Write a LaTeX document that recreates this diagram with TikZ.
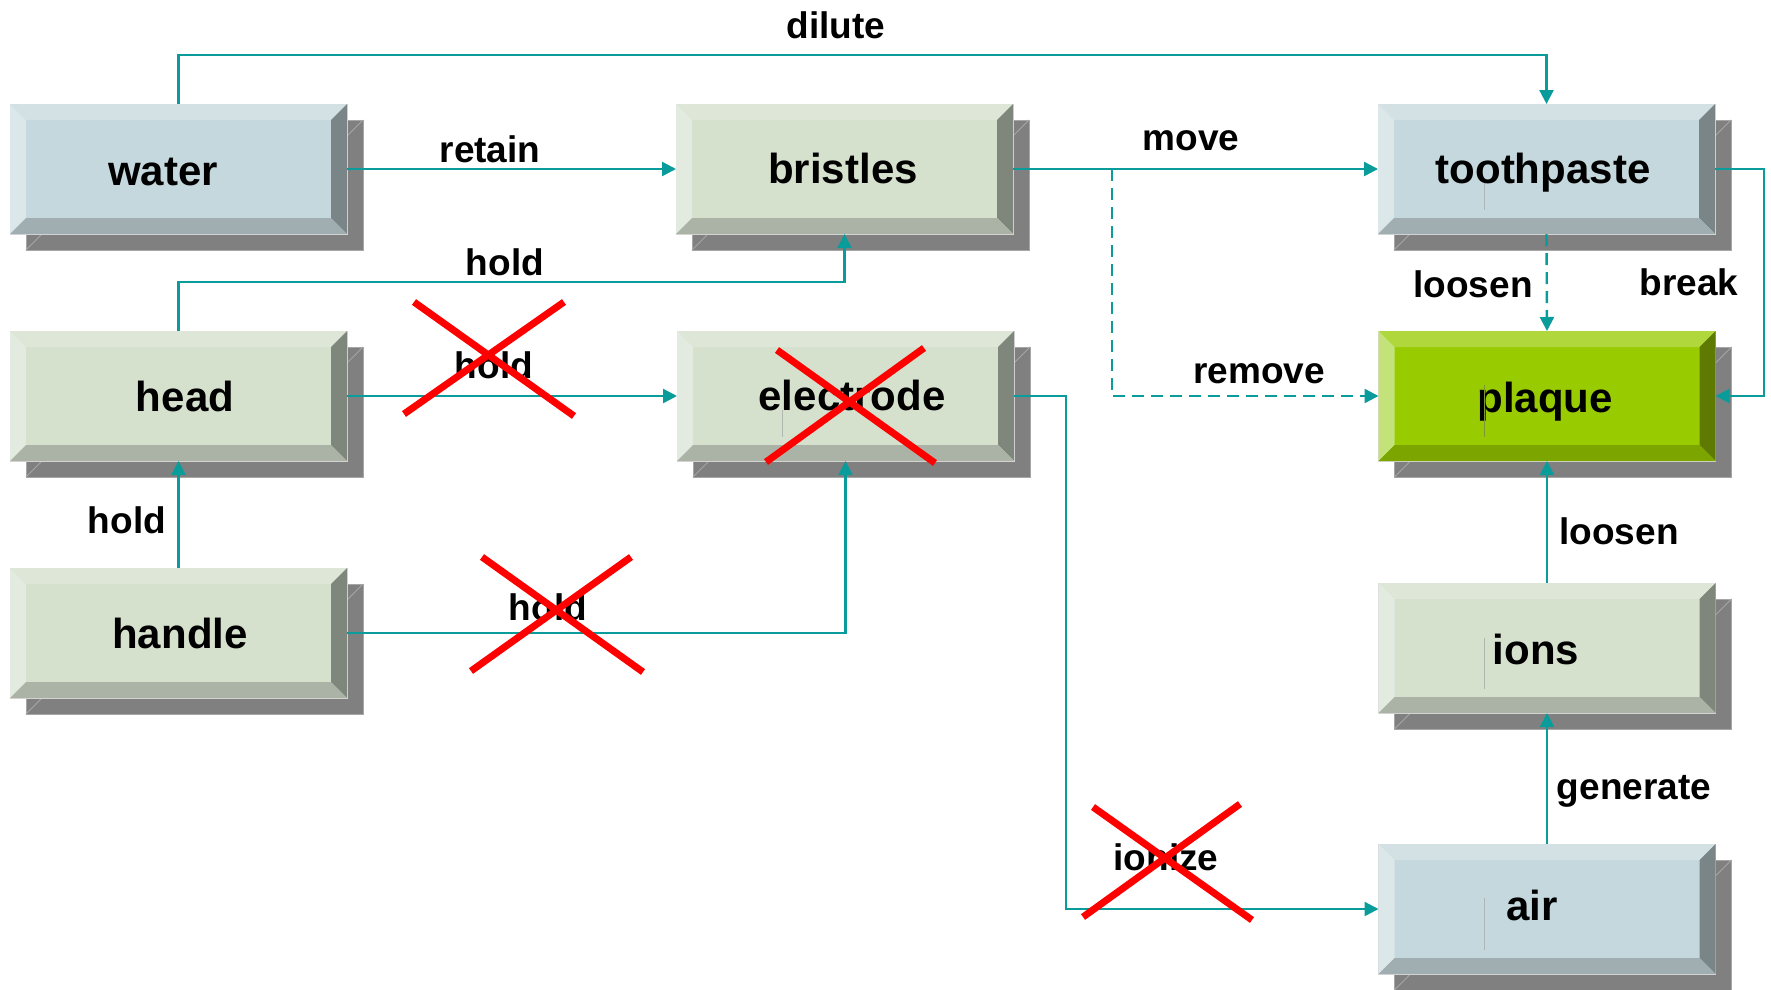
\documentclass[tikz,border=0pt]{standalone}
\usepackage{fontspec}
\setmainfont{Liberation Sans}
\usetikzlibrary{arrows.meta}
\definecolor{tealc}{HTML}{0A9B9B}
\definecolor{shadowc}{HTML}{808080}
\definecolor{shadowln}{HTML}{A6A6A6}
% blue-grey palette
\definecolor{bface}{HTML}{C5D8DD}
\definecolor{btop}{HTML}{D3E1E5}
\definecolor{bleft}{HTML}{DCE7EA}
\definecolor{bright}{HTML}{7A8588}
\definecolor{bbot}{HTML}{A1AEB1}
% green-grey palette
\definecolor{gface}{HTML}{D5E0CD}
\definecolor{gtop}{HTML}{DEE6D8}
\definecolor{gleft}{HTML}{E3EAE0}
\definecolor{gright}{HTML}{7F867B}
\definecolor{gbot}{HTML}{AAB3A6}
% plaque palette
\definecolor{pface}{HTML}{99CC00}
\definecolor{ptop}{HTML}{B0D83C}
\definecolor{pleft}{HTML}{C4E27A}
\definecolor{pright}{HTML}{5E7A00}
\definecolor{pbot}{HTML}{7DA500}
\definecolor{crossc}{HTML}{FF0000}

\newcommand{\bevbox}[7]{%
  \fill[shadowc] ({#2-152.5},{#3-49}) rectangle ({#2+184.5},{#3+81});
  \draw[shadowln,line width=0.8pt] ({#2-152.5},{#3-49}) rectangle ({#2+184.5},{#3+81});
  \draw[shadowln,line width=0.8pt] ({#2+184.5},{#3-49}) -- ({#2+168.5},{#3-33});
  \draw[shadowln,line width=0.8pt] ({#2-152.5},{#3+81}) -- ({#2-136.5},{#3+65});
  \node[boxshape,fill=#4face] (#1) at (#2,#3) {};
  \fill[#4top] (#1.north west) -- (#1.north east) -- ([shift={(-16,16)}]#1.north east) -- ([shift={(16,16)}]#1.north west) -- cycle;
  \fill[#4left] (#1.north west) -- ([shift={(16,16)}]#1.north west) -- ([shift={(16,-16)}]#1.south west) -- (#1.south west) -- cycle;
  \fill[#4right] (#1.north east) -- (#1.south east) -- ([shift={(-16,-16)}]#1.south east) -- ([shift={(-16,16)}]#1.north east) -- cycle;
  \fill[#4bot] (#1.south west) -- (#1.south east) -- ([shift={(-16,-16)}]#1.south east) -- ([shift={(16,-16)}]#1.south west) -- cycle;
  \node[boxtext] (#1-text) at (#6,#7) {#5};
}

\begin{document}
\begin{tikzpicture}[x=1pt,y=-1pt,
  boxshape/.style={rectangle,minimum width=337pt,minimum height=130pt,inner sep=0pt,outer sep=0pt,draw=white!70!gray,line width=0.5pt},
  boxtext/.style={font=\fontsize{42}{48}\selectfont\bfseries,anchor=base,inner sep=0pt},
  lbl/.style={font=\fontsize{37}{44}\selectfont\bfseries,inner sep=0pt},
  conn/.style={draw=tealc,line width=2.4pt,-{Triangle[length=14pt,width=14pt]}},
  dconn/.style={conn,dash pattern=on 12pt off 7pt},
  plainconn/.style={draw=tealc,line width=2.4pt},
  crossline/.style={draw=crossc,line width=7pt},
  cursor/.style={line width=1pt}
]
\useasboundingbox (0,0) rectangle (1771,989);
\fill[white] (0,0) rectangle (1771,989);

% boxes
\bevbox{water}{178.5}{169}{b}{water}{163}{185}
\bevbox{bristles}{844.5}{169}{g}{bristles}{843}{183}
\bevbox{toothpaste}{1546.5}{169}{b}{toothpaste}{1543}{183}
\bevbox{head}{178.5}{396}{g}{head}{185}{411}
\bevbox{electrode}{845.5}{396}{g}{electrode}{852}{410}
\bevbox{plaque}{1547}{396}{p}{plaque}{1545}{412}
\bevbox{handle}{178.5}{633}{g}{handle}{180}{648}
\bevbox{ions}{1547}{648}{g}{ions}{1536}{664}
\bevbox{air}{1547}{909}{b}{air}{1532}{920}

% faint cursor marks
\draw[cursor,draw=bright!60] (1484,183) -- (1484,210);
\draw[cursor,draw=pright!80] (1484,385) -- (1484,437);
\draw[cursor,draw=gright!60] (1484,638) -- (1484,689);
\draw[cursor,draw=bright!60] (1484,898) -- (1484,950);
\draw[cursor,draw=gright!60] (782,410) -- (782,437);

% helper coordinates
\coordinate (dil) at (836,55);
\coordinate (hd) at (505,282);
\coordinate (br) at (1112,169);
\coordinate (bk) at (1764,280);
\coordinate (io) at (1066,650);

% connectors
\draw[conn] (water.north) |- (dil) -| (toothpaste.north);
\draw[conn] (water.east) -- (bristles.west);
\draw[dconn] (br) |- (plaque.west);
\draw[conn] (bristles.east) -- (toothpaste.west);
\draw[conn] (head.north) |- (hd) -| (bristles.south);
\draw[conn] (head.east) -- (electrode.west);
\draw[conn] (handle.north) -- (head.south);
\draw[conn] (handle.east) -| (electrode.south);
\draw[conn] (electrode.east) -| (io) |- (air.west);
\draw[dconn] (toothpaste.south) -- (plaque.north);
\draw[conn] (toothpaste.east) -| (bk) |- (plaque.east);
\draw[conn] (ions.north) -- (plaque.south);
\draw[conn] (air.north) -- (ions.south);

% labels
\node[lbl] (l-dilute) at (836,25) {dilute};
\node[lbl] (l-retain) at (490,149) {retain};
\node[lbl] (l-move) at (1191,141) {move};
\node[lbl] (l-hold1) at (505,262) {hold};
\node[lbl] (l-hold2) at (494,365) {hold};
\node[lbl] (l-remove) at (1259,374) {remove};
\node[lbl] (l-loosen1) at (1473,284) {loosen};
\node[lbl] (l-break) at (1689,282) {break};
\node[lbl] (l-hold3) at (127,520) {hold};
\node[lbl] (l-hold4) at (548,607) {hold};
\node[lbl] (l-loosen2) at (1619,531) {loosen};
\node[lbl] (l-generate) at (1634,791) {generate};
\node[lbl] (l-ionize) at (1166,857) {ionize};

% red crosses
\draw[crossline] (414,302) -- (574,416);
\draw[crossline] (564,302) -- (404,414);
\draw[crossline] (777,350) -- (935,463);
\draw[crossline] (924,348) -- (766,462);
\draw[crossline] (482,557) -- (643,672);
\draw[crossline] (631,557) -- (471,671);
\draw[crossline] (1093,807) -- (1252,920);
\draw[crossline] (1240,804) -- (1083,917);
\end{tikzpicture}
\end{document}
